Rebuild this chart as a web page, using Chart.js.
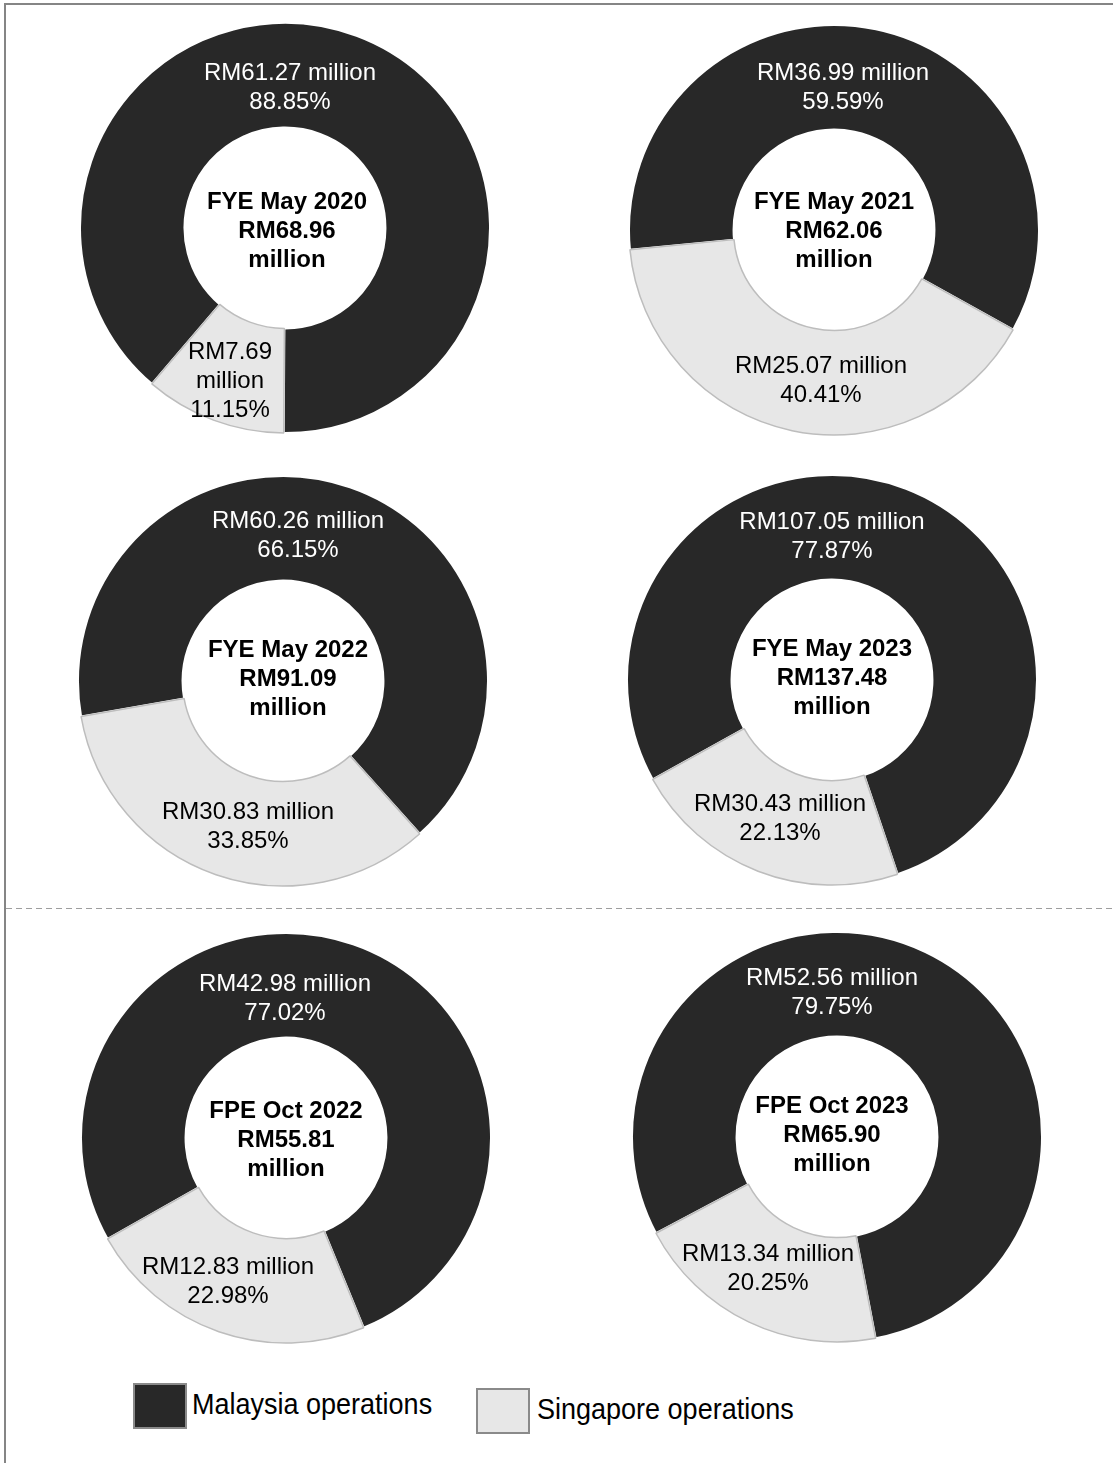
<!DOCTYPE html>
<html>
<head>
<meta charset="utf-8">
<script src="https://cdn.jsdelivr.net/npm/chart.js@4.4.1/dist/chart.umd.min.js"></script>
<style>
  html, body { margin: 0; padding: 0; background: #ffffff; }
  #page { position: relative; width: 1113px; height: 1463px; overflow: hidden; background: #ffffff;
          font-family: "Liberation Sans", Arial, sans-serif; }
  #frame { position: absolute; left: 0; top: 0; }
  .panel { position: absolute; }
  .legend-box { position: absolute; width: 50px; height: 42px; border: 2px solid #8a8a8a; }
  .legend-text { position: absolute; font-size: 30px; color: #000; white-space: nowrap;
                 transform: scaleX(0.9); transform-origin: left center; line-height: 30px; }
</style>
</head>
<body>
<div id="page">
  <svg id="frame" width="1113" height="1463">
    <line x1="5" y1="4" x2="1113" y2="4" stroke="#858585" stroke-width="2"/>
    <line x1="5" y1="3" x2="5" y2="1463" stroke="#858585" stroke-width="2"/>
    <line x1="6" y1="908.5" x2="1113" y2="908.5" stroke="#9e9e9e" stroke-width="1.2" stroke-dasharray="6 4"/>
  </svg>
  <div id="legend"></div>
</div>
<script>
// ---- data ----
const periods = ['FYE May 2020', 'FYE May 2021', 'FYE May 2022', 'FYE May 2023', 'FPE Oct 2022', 'FPE Oct 2023'];
const totalRevenue = [68.96, 62.06, 91.09, 137.48, 55.81, 65.90];
const malaysiaRevenue = [61.27, 36.99, 60.26, 107.05, 42.98, 52.56];
const singaporeRevenue = [7.69, 25.07, 30.83, 30.43, 12.83, 13.34];
const malaysiaShare = [88.85, 59.59, 66.15, 77.87, 77.02, 79.75];
const singaporeShare = [11.15, 40.41, 33.85, 22.13, 22.98, 20.25];
const seriesNames = ['Malaysia operations', 'Singapore operations'];

// ---- layout / style ----
const colors = { malaysia: '#282828', singapore: '#e7e7e7', sgBorder: '#bdbdbd' };
const panels = [
  { cx: 285, cy: 228, rotation: 220.5, mal: [5, -140.5], sg: [-55, 153], sgWrap: true, ctr: [2, 3] },
  { cx: 834, cy: 230, rotation: 264.5, mal: [9, -142.5], sg: [-13, 150.5], sgWrap: false, ctr: [0, 1] },
  { cx: 283, cy: 681, rotation: 260, mal: [15, -145.5], sg: [-35, 145.5], sgWrap: false, ctr: [5, -2] },
  { cx: 832, cy: 680, rotation: 241, mal: [0, -143.5], sg: [-52, 138.5], sgWrap: false, ctr: [0, -2] },
  { cx: 286, cy: 1138, rotation: 240.5, mal: [-1, -139.5], sg: [-58, 143.5], sgWrap: false, ctr: [0, 2] },
  { cx: 837, cy: 1137, rotation: 242, mal: [-5, -144.5], sg: [-69, 131.5], sgWrap: false, ctr: [-5, -2] }
];
const SIZE = 412;
const FONT = '"Liberation Sans", Arial, sans-serif';
const LINE = 29;

function drawLines(ctx, lines, x, y, color, weight) {
  ctx.save();
  ctx.fillStyle = color;
  ctx.font = weight + ' 24px ' + FONT;
  ctx.textAlign = 'center';
  ctx.textBaseline = 'middle';
  const top = y - (lines.length - 1) * LINE / 2;
  lines.forEach((t, i) => ctx.fillText(t, x, top + i * LINE));
  ctx.restore();
}

const labelPlugin = {
  id: 'donutLabels',
  afterDatasetsDraw(chart, args, opts) {
    const i = opts.index;
    const p = panels[i];
    const arc = chart.getDatasetMeta(0).data[0];
    const cx = arc.x, cy = arc.y;
    const ctx = chart.ctx;
    drawLines(ctx, ['RM' + malaysiaRevenue[i].toFixed(2) + ' million', malaysiaShare[i].toFixed(2) + '%'],
      cx + p.mal[0], cy + p.mal[1], '#ffffff', 'normal');
    const sgVal = 'RM' + singaporeRevenue[i].toFixed(2);
    const sgLines = p.sgWrap ? [sgVal, 'million', singaporeShare[i].toFixed(2) + '%']
                             : [sgVal + ' million', singaporeShare[i].toFixed(2) + '%'];
    drawLines(ctx, sgLines, cx + p.sg[0], cy + p.sg[1], '#000000', 'normal');
    drawLines(ctx, [periods[i], 'RM' + totalRevenue[i].toFixed(2), 'million'],
      cx + p.ctr[0], cy + p.ctr[1], '#000000', 'bold');
  }
};

const page = document.getElementById('page');
panels.forEach((p, i) => {
  const c = document.createElement('canvas');
  c.className = 'panel';
  c.width = SIZE; c.height = SIZE;
  c.style.width = SIZE + 'px'; c.style.height = SIZE + 'px';
  c.style.left = (p.cx - SIZE / 2) + 'px';
  c.style.top = (p.cy - SIZE / 2) + 'px';
  page.appendChild(c);
  new Chart(c, {
    type: 'doughnut',
    data: {
      labels: seriesNames,
      datasets: [{
        data: [malaysiaRevenue[i], singaporeRevenue[i]],
        backgroundColor: [colors.malaysia, colors.singapore],
        borderColor: ['#ffffff', colors.sgBorder],
        borderWidth: [2, 1.5],
        hoverOffset: 0
      }]
    },
    options: {
      responsive: false,
      devicePixelRatio: 1,
      animation: false,
      events: [],
      cutout: '49%',
      rotation: p.rotation,
      layout: { padding: 0 },
      plugins: {
        legend: { display: false },
        tooltip: { enabled: false },
        donutLabels: { index: i }
      }
    },
    plugins: [labelPlugin]
  });
});

// ---- legend ----
const legend = document.getElementById('legend');
const legendItems = [
  { name: seriesNames[0], fill: colors.malaysia, box: [133, 1383], text: [192, 1404] },
  { name: seriesNames[1], fill: colors.singapore, box: [476, 1388], text: [537, 1409] }
];
legendItems.forEach(it => {
  const b = document.createElement('div');
  b.className = 'legend-box';
  b.style.left = it.box[0] + 'px';
  b.style.top = it.box[1] + 'px';
  b.style.background = it.fill;
  legend.appendChild(b);
  const t = document.createElement('div');
  t.className = 'legend-text';
  t.textContent = it.name;
  t.style.left = it.text[0] + 'px';
  t.style.top = (it.text[1] - 15) + 'px';
  legend.appendChild(t);
});
</script>
</body>
</html>
